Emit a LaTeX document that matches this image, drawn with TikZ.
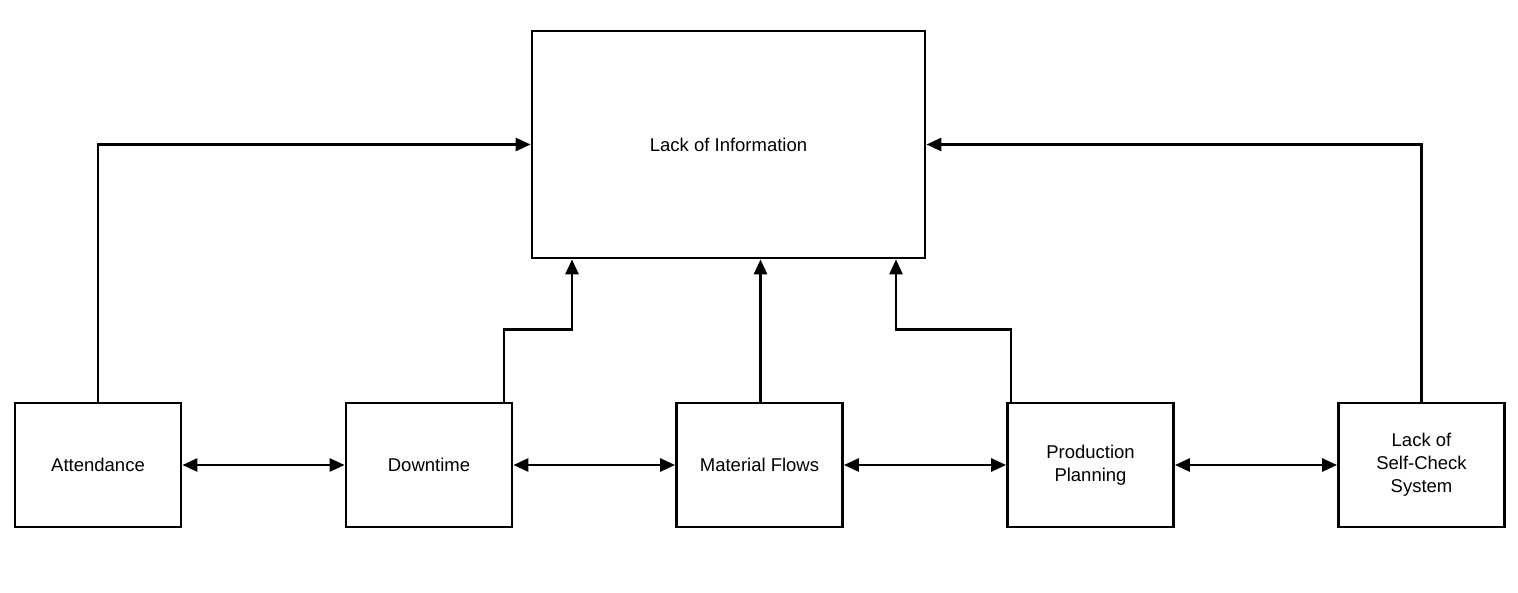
\documentclass[tikz,border=0pt]{standalone}
\usepackage{fontspec}
\setmainfont{Liberation Sans}
\usetikzlibrary{arrows.meta}
\begin{document}
\begin{tikzpicture}[x=1pt,y=-1pt,
  box/.style={draw, line width=2.8pt, minimum width=166pt, minimum height=124pt, inner sep=0pt, align=center, font=\fontsize{18.5}{23}\selectfont},
  conn/.style={line width=2.8pt, -{Triangle[length=15pt,width=13pt]}},
  dconn/.style={line width=2.8pt, {Triangle[length=15pt,width=13pt]}-{Triangle[length=15pt,width=13pt]}}]
\useasboundingbox (0,0) rectangle (1518,593);
\node[box, minimum width=393pt, minimum height=227pt] (info) at (728.5,144.5) {Lack of Information};
\node[box] (att) at (98,465) {Attendance};
\node[box] (dt) at (429,465) {Downtime};
\node[box] (mf) at (759.5,465) {Material Flows};
\node[box] (pp) at (1090.5,465) {Production\\Planning};
\node[box] (sc) at (1421.5,465) {Lack of\\Self-Check\\System};
\draw[dconn] (att) -- (dt);
\draw[dconn] (dt) -- (mf);
\draw[dconn] (mf) -- (pp);
\draw[dconn] (pp) -- (sc);
\draw[conn] (att.north) |- (info.west);
\draw[conn] (sc.north) |- (info.east);
\draw[conn] ([xshift=1pt]mf.north) -- ([xshift=32pt]info.south);
\draw[conn] ([xshift=75pt]dt.north) |- ++(0,-72) -| ([xshift=-156.5pt]info.south);
\draw[conn] ([xshift=-79.5pt]pp.north) |- ++(0,-72) -| ([xshift=167.5pt]info.south);
\end{tikzpicture}
\end{document}
